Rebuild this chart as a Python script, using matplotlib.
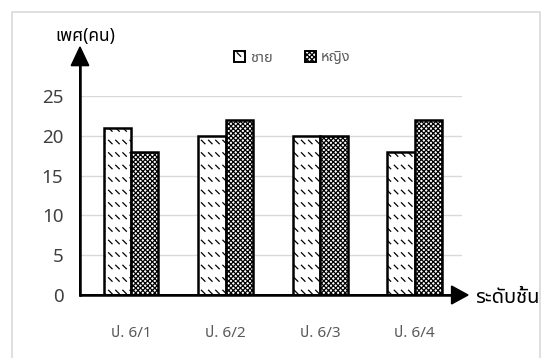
import warnings
import numpy as np
import matplotlib
matplotlib.use("Agg")
import matplotlib.pyplot as plt
from matplotlib import font_manager, hatch as mhatch
from matplotlib.ft2font import FT2Font
from matplotlib.path import Path
from matplotlib.patches import Rectangle, Patch

warnings.filterwarnings("ignore")

# Data
classes = ["ป. 6/1", "ป. 6/2", "ป. 6/3", "ป. 6/4"]
male = [21, 20, 20, 18]
female = [18, 22, 20, 22]
series_names = ["ชาย", "หญิง"]
yticks = [0, 5, 10, 15, 20, 25]
y_title = "เพศ(คน)"
x_title = "ระดับชั้น"


# Hatch of short diagonal dashes, selected with the 'd' symbol
class DashedDiagonal(mhatch.HatchPatternBase):
    rows, cols, seg = 8, 14, 0.035

    def __init__(self, hatch, density):
        self.on = "d" in hatch
        self.num_vertices = 2 * self.rows * self.cols if self.on else 0

    def set_vertices_and_codes(self, vertices, codes):
        k = 0
        for r in range(self.rows):
            y = (r + 0.5) / self.rows
            for c in range(self.cols):
                x = (c + 0.2) / self.cols
                vertices[k] = (x, y + self.seg)
                vertices[k + 1] = (x + self.seg, y)
                codes[k] = Path.MOVETO
                codes[k + 1] = Path.LINETO
                k += 2


mhatch._hatch_types.append(DashedDiagonal)


# Find a font that can draw Thai script
def thai_font():
    preferred = ["Noto Sans Thai", "Noto Sans Thai Looped", "Loma", "Garuda",
                 "Tlwg Typo", "Norasi", "Kinnari", "Sawasdee", "Umpush",
                 "Waree", "Laksaman", "Noto Serif Thai"]
    found = {}
    for f in font_manager.fontManager.ttflist:
        try:
            cmap = FT2Font(f.fname).get_charmap()
        except Exception:
            continue
        if ord("ก") in cmap and ord("ช") in cmap:
            found.setdefault(f.name, f.fname)
    for p in preferred:
        if p in found:
            return p
    return next(iter(found), None)


tf = thai_font()
fams = ([tf] if tf else []) + ["DejaVu Sans"]
plt.rcParams["font.family"] = fams
plt.rcParams["hatch.linewidth"] = 0.9

male_hatch = "d"
female_hatch = "xxxxxxx"

W, H = 548, 358
fig = plt.figure(figsize=(W / 100, H / 100), dpi=100)

# outer frame
fig.patches.append(Rectangle((12 / W, -0.05), (540 - 12) / W, (H - 12) / H + 0.05,
                             transform=fig.transFigure, fill=False,
                             edgecolor="#d9d9d9", linewidth=1.2))

ax_l, ax_r, ax_b, ax_t = 80, 462, 295, 96
ax = fig.add_axes([ax_l / W, (H - ax_b) / H, (ax_r - ax_l) / W, (ax_b - ax_t) / H])

x = np.arange(len(classes))
bw = 0.29
ax.bar(x - bw / 2, male, bw, color="white", edgecolor="black",
       linewidth=1.8, hatch=male_hatch, zorder=3)
ax.bar(x + bw / 2, female, bw, color="white", edgecolor="black",
       linewidth=1.8, hatch=female_hatch, zorder=3)

ax.set_xlim(-0.54, 3.5)
ax.set_ylim(0, 25)
ax.set_yticks(yticks)
ax.set_xticks(x)
ax.set_xticklabels(classes, fontsize=11, color="#595959")
ax.tick_params(axis="y", labelsize=13.5, labelcolor="#404040", length=0, pad=12)
ax.tick_params(axis="x", length=0, pad=22)
ax.grid(axis="y", color="#d9d9d9", linewidth=1, zorder=0)
for s in ax.spines.values():
    s.set_visible(False)
ax.patch.set_alpha(0)

# axis arrows
fig.add_artist(matplotlib.patches.FancyArrow(
    80 / W, (H - 295) / H, 0, (295 - 47) / H, width=0.0001, head_width=0.032,
    head_length=0.052, length_includes_head=True, color="black",
    transform=fig.transFigure))
fig.add_artist(plt.Line2D([80 / W, 80 / W], [(H - 295) / H, (H - 62) / H],
                          color="black", linewidth=1.8, transform=fig.transFigure))
fig.add_artist(matplotlib.patches.FancyArrow(
    80 / W, (H - 295) / H, (468 - 80) / W, 0, width=0.0001, head_width=0.05,
    head_length=0.03, length_includes_head=True, color="black",
    transform=fig.transFigure))
fig.add_artist(plt.Line2D([80 / W, 455 / W], [(H - 295) / H, (H - 295) / H],
                          color="black", linewidth=1.8, transform=fig.transFigure))

fig.text(55 / W, (H - 36) / H, y_title, fontsize=12.5, va="center", ha="left")
fig.text(475 / W, (H - 298) / H, x_title, fontsize=14.5, va="center", ha="left")

handles = [Patch(facecolor="white", edgecolor="black", hatch=male_hatch, linewidth=1.4),
           Patch(facecolor="white", edgecolor="black", hatch=female_hatch, linewidth=1.4)]
fig.legend(handles, series_names, loc="center", bbox_to_anchor=(292 / W, (H - 58) / H),
           ncol=2, frameon=False, fontsize=10.5, labelcolor="#595959",
           handlelength=0.8, handleheight=0.8, handletextpad=0.3, columnspacing=2.2)

fig.savefig("out.png", dpi=100)
